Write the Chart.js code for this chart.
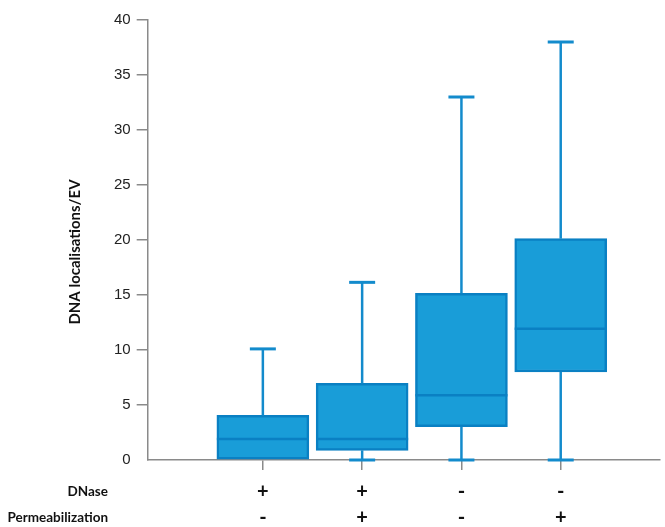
<!DOCTYPE html>
<html>
<head>
<meta charset="utf-8">
<script src="https://cdn.jsdelivr.net/npm/chart.js@4"></script>
<style>
  html, body { margin: 0; padding: 0; background: #fff; }
  #wrap { width: 665px; height: 527px; }
</style>
</head>
<body>
<div id="wrap"><canvas id="boxChart"></canvas></div>
<script>
// groups along the x axis
const positions = [1, 2, 3, 4];
const dnase = ['+', '+', '-', '-'];
const permeabilization = ['-', '+', '-', '+'];

// box plot statistics per group (DNA localisations/EV)
const whiskerLow = [0, 0, 0, 0];
const q1 = [0, 0.88, 3.03, 8.0];
const medians = [1.9, 1.9, 5.88, 11.94];
const q3 = [4.05, 6.97, 15.15, 20.12];
const whiskerHigh = [10.1, 16.15, 33.0, 38.0];

const rowLabels = ['DNase', 'Permeabilization'];
const yTitle = 'DNA localisations/EV';

const boxFill = '#199dd8';
const boxEdge = '#0a80c3';
const whiskerColor = '#138bcc';
const axisColor = '#8a8a8a';

// whiskers, caps and medians drawn through the chart scales
const boxExtras = {
    id: 'boxExtras',
    afterDatasetsDraw(chart) {
        const { ctx, scales: { x, y } } = chart;
        const meta = chart.getDatasetMeta(0);
        ctx.save();
        ctx.lineCap = 'butt';
        positions.forEach((p, i) => {
            const cx = x.getPixelForValue(p);
            const half = meta.data[i].width / 2;
            const capHalf = 13;

            ctx.strokeStyle = whiskerColor;
            ctx.lineWidth = 2.5;
            ctx.beginPath();
            ctx.moveTo(cx, y.getPixelForValue(q3[i]));
            ctx.lineTo(cx, y.getPixelForValue(whiskerHigh[i]));
            ctx.stroke();

            ctx.lineWidth = 3;
            ctx.beginPath();
            ctx.moveTo(cx - capHalf, y.getPixelForValue(whiskerHigh[i]));
            ctx.lineTo(cx + capHalf, y.getPixelForValue(whiskerHigh[i]));
            ctx.stroke();

            if (q1[i] > whiskerLow[i]) {
                ctx.lineWidth = 2.5;
                ctx.beginPath();
                ctx.moveTo(cx, y.getPixelForValue(q1[i]));
                ctx.lineTo(cx, y.getPixelForValue(whiskerLow[i]));
                ctx.stroke();
                ctx.lineWidth = 3;
                ctx.beginPath();
                ctx.moveTo(cx - capHalf, y.getPixelForValue(whiskerLow[i]));
                ctx.lineTo(cx + capHalf, y.getPixelForValue(whiskerLow[i]));
                ctx.stroke();
            }

            // median
            ctx.strokeStyle = boxEdge;
            ctx.lineWidth = 2.5;
            ctx.beginPath();
            ctx.moveTo(cx - half, y.getPixelForValue(medians[i]));
            ctx.lineTo(cx + half, y.getPixelForValue(medians[i]));
            ctx.stroke();
        });
        ctx.restore();
    }
};

// +/- condition table below the x axis, and the y title
const conditionLabels = {
    id: 'conditionLabels',
    afterDraw(chart) {
        const { ctx, scales: { x } } = chart;
        const rowY = [492, 518];
        ctx.save();
        ctx.fillStyle = '#111';
        ctx.textBaseline = 'middle';

        ctx.font = 'bold 13.5px Lato';
        ctx.textAlign = 'right';
        rowLabels.forEach((t, r) => ctx.fillText(t, 108, rowY[r]));

        ctx.font = 'bold 20px Lato';
        ctx.textAlign = 'center';
        positions.forEach((p, i) => {
            const cx = x.getPixelForValue(p);
            ctx.fillText(dnase[i], cx, rowY[0]);
            ctx.fillText(permeabilization[i], cx, rowY[1]);
        });

        ctx.translate(75, 252);
        ctx.rotate(-Math.PI / 2);
        ctx.font = 'bold 15px Lato';
        ctx.fillText(yTitle, 0, 0);
        ctx.restore();
    }
};

const ctx = document.getElementById('boxChart').getContext('2d');
const boxChart = new Chart(ctx, {
    type: 'bar',
    data: {
        datasets: [{
            data: positions.map((p, i) => ({ x: p, y: [q1[i], q3[i]] })),
            backgroundColor: boxFill,
            borderColor: boxEdge,
            borderWidth: 2.5,
            borderSkipped: false,
            barThickness: 92,
            clip: false
        }]
    },
    options: {
        responsive: true,
        maintainAspectRatio: false,
        animation: false,
        layout: { padding: { left: 108, right: 5, top: 20, bottom: 57 } },
        plugins: {
            legend: { display: false },
            tooltip: { enabled: false }
        },
        scales: {
            x: {
                type: 'linear',
                offset: false,
                min: -0.16,
                max: 5.0,
                afterBuildTicks: (scale) => {
                    scale.ticks = positions.map(v => ({ value: v }));
                },
                ticks: { display: false },
                grid: {
                    offset: false,
                    drawOnChartArea: false,
                    tickLength: 10,
                    color: axisColor,
                    lineWidth: 1.5
                },
                border: { color: axisColor, width: 1.5 }
            },
            y: {
                min: 0,
                max: 40,
                ticks: {
                    stepSize: 5,
                    padding: 6,
                    color: '#222',
                    font: { family: 'Liberation Sans', size: 15 }
                },
                grid: {
                    drawOnChartArea: false,
                    tickLength: 11,
                    lineWidth: 1.5,
                    color: (c) => (c.tick && c.tick.value === 0) ? 'rgba(0,0,0,0)' : axisColor
                },
                border: { color: axisColor, width: 1.5 }
            }
        }
    },
    plugins: [boxExtras, conditionLabels]
});
</script>
</body>
</html>
